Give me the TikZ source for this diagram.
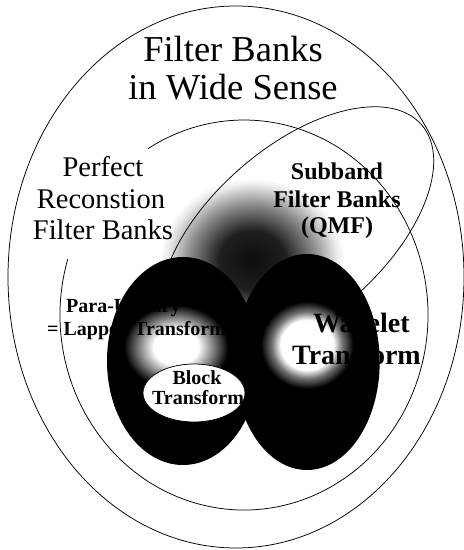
\documentclass[tikz,border=0pt]{standalone}
\usepackage{fontspec}
\setmainfont{Liberation Serif}
\pgfdeclareradialshading{cloudshade}{\pgfpointorigin}{color(0bp)=(black!95); color(9bp)=(black!88); color(17bp)=(black!45); color(23bp)=(black!8); color(25bp)=(white); color(50bp)=(white)}
\pgfdeclareradialshading{spotshadeR}{\pgfpointorigin}{color(0bp)=(white); color(12bp)=(white); color(16bp)=(black!55); color(21bp)=(black); color(25bp)=(black); color(50bp)=(black)}
\pgfdeclareradialshading{spotshadeL}{\pgfpointorigin}{color(0bp)=(white); color(9bp)=(white); color(15bp)=(black!50); color(21bp)=(black); color(25bp)=(black); color(50bp)=(black)}
\tikzset{
  ring/.style={draw=black, line width=0.75pt},
  blob/.style={fill=black},
  bigtxt/.style={font=\fontsize{36.5}{40}\selectfont, inner sep=0pt, anchor=base},
  midtxt/.style={font=\fontsize{28.5}{31}\selectfont, inner sep=0pt, anchor=base},
  subtxt/.style={font=\fontsize{24}{27}\selectfont\bfseries, inner sep=0pt, anchor=base},
  smalltxt/.style={font=\fontsize{20}{22}\selectfont\bfseries, inner sep=0pt},
  wavetxt/.style={font=\fontsize{28}{31}\selectfont\bfseries, inner sep=0pt, anchor=base west}
}
\begin{document}
\begin{tikzpicture}[x=1pt,y=1pt]
\useasboundingbox (0,0) rectangle (464,550);
\fill[white] (0,0) rectangle (464,550);
% outer ellipse
\draw[ring] (236,273) ellipse (228 and 271);
% perfect reconstruction ellipse (with gap near its label)
\draw[ring] ([shift={(163.4:184 and 195)}]244,235) arc[start angle=163.4, end angle=481.5, x radius=184, y radius=195];
% grey cloud
\shade[shading=cloudshade] (252,290) ellipse (92 and 82);
% subband ellipse
\draw[ring, rotate around={41:(297,317)}] (297,317) ellipse (165 and 86);
% dark blobs
\fill[blob] (183,189) ellipse (76 and 104);
\fill[blob] (307,188) ellipse (72.7 and 108);
\shade[shading=spotshadeL] (176,203) ellipse (62 and 50);
\shade[shading=spotshadeR] (307,205) ellipse (55 and 52);
% block transform ellipse
\draw[ring, fill=white] (194,157) ellipse (51 and 29);
% texts
\node[bigtxt] (t1) at (233,488) {Filter Banks};
\node[bigtxt] (t2) at (233,450) {in Wide Sense};
\node[midtxt] (p1) at (103,373) {Perfect};
\node[midtxt] (p2) at (101,341) {Reconstion};
\node[midtxt] (p3) at (103,310) {Filter Banks};
\node[subtxt] (s1) at (337,370) {Subband};
\node[subtxt] (s2) at (337,342) {Filter Banks};
\node[subtxt] (s3) at (337,316) {(QMF)};
\node[smalltxt, anchor=base west] (l1) at (66,237) {Para-Unitary};
\node[smalltxt, anchor=base west] (l2) at (47,214) {= Lapped Transform};
\node[wavetxt] (w1) at (313,217) {Wavelet};
\node[wavetxt] (w2) at (292,185) {Transform};
\node[smalltxt, anchor=base] (b1) at (197,165) {Block};
\node[smalltxt, anchor=base] (b2) at (198,145) {Transform};
\end{tikzpicture}
\end{document}
